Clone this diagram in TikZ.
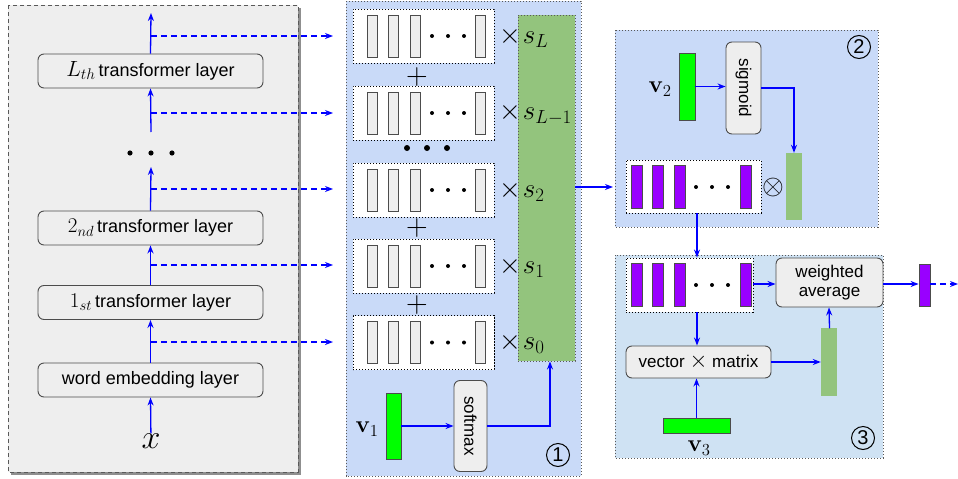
\RequirePackage{fix-cm}
\documentclass[tikz,border=0pt]{standalone}
\usepackage[no-math]{fontspec}
\newfontfamily\arial{Liberation Sans}
\usetikzlibrary{arrows.meta,shadows,calc}
\definecolor{panelblue}{HTML}{C9DAF8}
\definecolor{panellight}{HTML}{CFE2F3}
\definecolor{sgreen}{HTML}{93C47D}
\definecolor{bgreen}{HTML}{00FF00}
\definecolor{purp}{HTML}{9900FF}
\definecolor{lgray}{HTML}{EEEEEE}
\begin{document}
\begin{tikzpicture}[x=1pt,y=-1pt,
  arr/.style={draw=blue, line width=1.3, -{Stealth[length=8,width=6]}},
  darr/.style={arr, dash pattern=on 6 off 4},
  layer/.style={draw=gray!60!black, line width=0.9, rounded corners=6, fill=lgray, minimum width=225, minimum height=34, inner sep=0, font=\arial\fontsize{18}{20}\selectfont},
  rbox/.style={draw=gray!60!black, line width=0.9, rounded corners=6, fill=lgray, inner sep=0, font=\arial\fontsize{17}{19}\selectfont},
  rowbox/.style={draw=black, fill=white, line width=0.9, dash pattern=on 1.2 off 1.8, minimum height=54, inner sep=0},
  panel/.style={draw=gray!70!black, line width=0.9, dash pattern=on 1.2 off 1.8},
  gbar/.style={draw=gray!60!black, fill=bgreen, line width=0.8, inner sep=0},
  sbar/.style={fill=sgreen, inner sep=0},
  pbar/.style={draw=gray!60!black, fill=purp, line width=0.8},
  wbar/.style={draw=gray!60!black, fill=lgray, line width=0.9},
  mlab/.style={inner sep=0, font=\fontsize{30}{32}\selectfont},
  vlab/.style={inner sep=0, font=\fontsize{24}{26}\selectfont},
  circnum/.style={circle, draw, line width=1, minimum size=23, inner sep=0, font=\arial\fontsize{20}{20}\selectfont}
]
\useasboundingbox (0,0) rectangle (958,479);

% ---------- left panel ----------
\path[draw=gray!70!black, dash pattern=on 4 off 3, fill=lgray, line width=1,
  drop shadow={shadow xshift=3pt, shadow yshift=-3pt, fill=gray!90!black, opacity=0.8}] (8,5) rectangle (298,472);

\node[layer] (Lth) at (150.5,71) {{\fontsize{22}{24}\selectfont$L_{th}$}\,transformer layer};
\node[layer] (second) at (150.5,228) {{\fontsize{21}{24}\selectfont$2_{nd}$}\,transformer layer};
\node[layer] (first) at (150.5,302.5) {{\fontsize{21}{24}\selectfont$1_{st}$}\,transformer layer};
\node[layer] (word) at (150.5,380) {word embedding layer};
\node[inner sep=0, font=\fontsize{34}{36}\selectfont] (x) at (151,441) {$x$};

\foreach \dx in {130,151,172} \fill (\dx,153) circle (2.6);

\coordinate (d2top) at (151,167);
\coordinate (d2bot) at (151,132);
\coordinate (top) at (151,13);
\foreach \n/\yy in {b0/342,b1/265,b2/189,b3/113,b4/36} {
  \coordinate (\n s) at (151,\yy);
  \coordinate (\n e) at (333,\yy);
}
\draw[arr] (x) -- (word.south);
\draw[arr] (word.north) -- (first.south);
\draw[arr] (first.north) -- (second.south);
\draw[arr] (second.north) -- (d2top);
\draw[arr] (d2bot) -- (Lth.south);
\draw[arr] (Lth.north) -- (top);
\foreach \n in {b0,b1,b2,b3,b4} \draw[darr] (\n s) -- (\n e);

% ---------- middle panel ----------
\path[panel, fill=panelblue] (346,1) rectangle (581,476);
\node[panel, fill=sgreen, minimum width=57, minimum height=346, inner sep=0] (G) at (546.5,188) {};

\foreach \i/\yc in {1/36,2/113,3/190,4/266,5/342.5} {
  \node[rowbox, minimum width=141] (r\i) at (423.5,\yc) {};
  \foreach \bx in {372,393,415,480.5} \draw[wbar] (\bx-5,\yc-21) rectangle (\bx+5,\yc+21);
  \foreach \dx in {432,448,464} \fill (\dx,\yc) circle (2);
}
\foreach \i/\yc/\lab in {1/37/L,2/114/{L-1},3/191/2,4/267/1,5/343/0} {
  \node[anchor=west, inner sep=0] (m\i) at (499,\yc) {\fontsize{28}{30}\selectfont$\times$\hspace{2pt}\fontsize{27}{29}\selectfont$s_{\lab}$};
}
\node[mlab] (p1) at (417,77) {$+$};
\node[mlab] (p2) at (417,228) {$+$};
\node[mlab] (p3) at (417,305) {$+$};
\foreach \dx in {407,427,447} \fill (\dx,148) circle (3);

\node[gbar, minimum width=15, minimum height=66] (v1) at (393.5,426) {};
\node[vlab] (v1l) at (367,429) {$\mathbf{v}_1$};
\node[rbox, minimum width=33, minimum height=91] (sm) at (470.5,426) {\rotatebox{-90}{softmax}};
\draw[arr] (v1.east) -- (sm.west);
\draw[arr] (sm.east) -| ([xshift=3.5]G.south);
\node[circnum] (c1) at (558,455) {1};

\coordinate (p2in) at (613,187);
\draw[arr] (G.east |- p2in) -- (p2in);

% ---------- panel 2 ----------
\path[panel, fill=panelblue] (615,30) rectangle (878,227);
\node[circnum] (c2) at (859,47) {2};
\node[gbar, minimum width=16, minimum height=67] (v2) at (687,86.5) {};
\node[vlab] (v2l) at (660,89) {$\mathbf{v}_2$};
\node[rbox, minimum width=35, minimum height=92] (sig) at (743.5,88) {\rotatebox{-90}{sigmoid}};
\node[sbar, minimum width=16, minimum height=67] (g2) at (794,186.5) {};
\draw[arr] (v2.east) -- (sig.west |- v2.east);
\draw[arr] (sig.east) -| (g2.north);
\node[rowbox, minimum width=135, minimum height=53] (P2) at (693.5,186.5) {};
\foreach \bx in {636.5,657.5,679.5,745.5} \draw[pbar] (\bx-5.5,165) rectangle (\bx+5.5,208);
\foreach \dx in {696,712,728} \fill (\dx,187) circle (2);
\node[inner sep=0, font=\fontsize{28}{30}\selectfont] (ot) at (773,187) {$\otimes$};

% ---------- panel 3 ----------
\path[panel, fill=panellight] (615,255) rectangle (883,458);
\node[circnum] (c3) at (863,438) {3};
\node[rowbox, minimum width=127, minimum height=54] (P3) at (689.5,285) {};
\foreach \bx in {636.5,658,679.5,745.5} \draw[pbar] (\bx-5.5,263.5) rectangle (\bx+5.5,306);
\foreach \dx in {696,712,728} \fill (\dx,285) circle (2);
\draw[arr] ([xshift=3.5]P2.south) -- ([xshift=7.5]P3.north);

\node[rbox, minimum width=107, minimum height=49, align=center, font=\arial\fontsize{17}{19}\selectfont] (wa) at (829.5,282.5) {weighted\\average};
\node[draw=gray!60!black, fill=purp, line width=0.8, minimum width=11, minimum height=42, inner sep=0] (out) at (924.5,285) {};
\coordinate (outend) at (958,284);
\draw[arr] (P3.east |- 0,284) -- (wa.west |- 0,284);
\draw[arr] (wa.east |- 0,284) -- (out.west |- 0,284);
\draw[darr] (out.east |- 0,284) -- (outend);

\node[rbox, minimum width=145, minimum height=32] (vm) at (698.5,362) {vector {\fontsize{23}{23}\selectfont$\times$} matrix};
\node[sbar, minimum width=16, minimum height=68] (g3) at (829,362) {};
\node[gbar, minimum width=67, minimum height=15] (v3) at (696.5,425.5) {};
\node[vlab] (v3l) at (699,448) {$\mathbf{v}_3$};
\draw[arr] ([xshift=7.5]P3.south) -- ([xshift=-1.5]vm.north);
\draw[arr] (vm.east) -- (g3.west);
\draw[arr] (g3.north) -- (wa.south |- g3.north) -- (wa.south -| g3.north);
\draw[arr] (v3.north) -- (v3.north |- vm.south);
\end{tikzpicture}
\end{document}
